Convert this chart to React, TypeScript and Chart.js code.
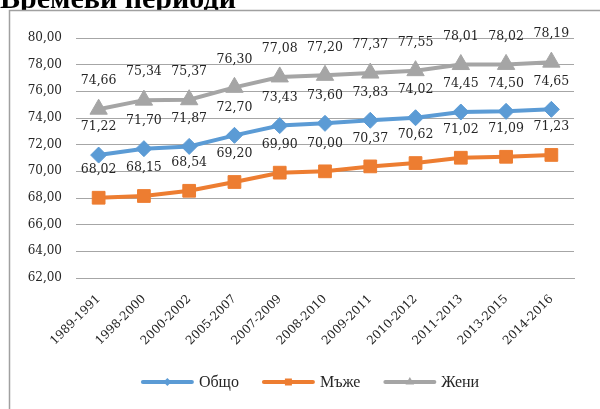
import React, { useEffect, useRef } from "react";
import { Chart, registerables } from "chart.js";

Chart.register(...registerables);

const categories = [
  "1989-1991", "1998-2000", "2000-2002", "2005-2007", "2007-2009", "2008-2010",
  "2009-2011", "2010-2012", "2011-2013", "2013-2015", "2014-2016",
];
const totalValues = [71.22, 71.7, 71.87, 72.7, 73.43, 73.6, 73.83, 74.02, 74.45, 74.5, 74.65];
const menValues = [68.02, 68.15, 68.54, 69.2, 69.9, 70.0, 70.37, 70.62, 71.02, 71.09, 71.23];
const womenValues = [74.66, 75.34, 75.37, 76.3, 77.08, 77.2, 77.37, 77.55, 78.01, 78.02, 78.19];
const seriesNames = ["Общо", "Мъже", "Жени"];
const titleText = "Времеви периоди";
const yMin = 62;
const yMax = 80;
const yStep = 2;

const BLUE = "#5B9BD5";
const ORANGE = "#ED7D31";
const GRAY = "#A5A5A5";
const TEXT = "#262626";
const GRID = "#A6A6A6";
const SERIF = "'DejaVu Serif', serif";

const fmt = (v: number) => v.toFixed(2).replace(".", ",");

const framePlugin = {
  id: "frame",
  beforeDraw(chart: any) {
    const ctx = chart.ctx;
    ctx.save();
    ctx.fillStyle = "#ffffff";
    ctx.fillRect(0, 0, chart.width, chart.height);
    ctx.fillStyle = "#000000";
    ctx.font = "bold 30px 'Liberation Serif', serif";
    ctx.textBaseline = "alphabetic";
    ctx.textAlign = "left";
    ctx.fillText(titleText, 0, 8);
    ctx.fillStyle = "#ffffff";
    ctx.fillRect(9, 10, chart.width, chart.height);
    ctx.strokeStyle = "#A0A0A0";
    ctx.lineWidth = 1.5;
    ctx.strokeRect(9.5, 10.5, chart.width + 20, chart.height + 20);
    ctx.restore();
  },
};

const labelPlugin = {
  id: "pointLabels",
  afterDatasetsDraw(chart: any) {
    const ctx = chart.ctx;
    ctx.save();
    ctx.font = `12.5px ${SERIF}`;
    ctx.fillStyle = TEXT;
    ctx.textAlign = "center";
    ctx.textBaseline = "middle";
    chart.data.datasets.forEach((ds: any, i: number) => {
      const meta = chart.getDatasetMeta(i);
      meta.data.forEach((pt: any, j: number) => {
        ctx.fillText(fmt(ds.data[j]), pt.x, pt.y - 28);
      });
    });
    ctx.restore();
  },
};

function drawMarker(ctx: CanvasRenderingContext2D, style: string, x: number, y: number, color: string) {
  ctx.fillStyle = color;
  ctx.beginPath();
  if (style === "rectRot") {
    const r = 4;
    ctx.moveTo(x, y - r);
    ctx.lineTo(x + r, y);
    ctx.lineTo(x, y + r);
    ctx.lineTo(x - r, y);
  } else if (style === "rect") {
    const s = 3.5;
    ctx.rect(x - s, y - s, 2 * s, 2 * s);
  } else {
    const r = 5;
    ctx.moveTo(x, y - r);
    ctx.lineTo(x + r * 0.866, y + r / 2);
    ctx.lineTo(x - r * 0.866, y + r / 2);
  }
  ctx.closePath();
  ctx.fill();
}

const legendPlugin = {
  id: "customLegend",
  afterDraw(chart: any) {
    const ctx = chart.ctx;
    ctx.save();
    ctx.font = `16px 'Liberation Serif', serif`;
    const lineLen = 53;
    const gap = 5;
    const itemGap = 23;
    const widths = chart.data.datasets.map((ds: any) => lineLen + gap + ctx.measureText(ds.label).width);
    const total = widths.reduce((a: number, b: number) => a + b, 0) + itemGap * (widths.length - 1);
    let x = 310 - total / 2;
    const y = 382;
    chart.data.datasets.forEach((ds: any, i: number) => {
      ctx.strokeStyle = ds.borderColor;
      ctx.lineWidth = 4;
      ctx.lineCap = "round";
      ctx.beginPath();
      ctx.moveTo(x + 2, y);
      ctx.lineTo(x + lineLen - 2, y);
      ctx.stroke();
      drawMarker(ctx, ds.pointStyle, x + lineLen / 2, y, ds.borderColor);
      ctx.fillStyle = TEXT;
      ctx.textAlign = "left";
      ctx.textBaseline = "middle";
      ctx.fillText(ds.label, x + lineLen + gap, y + 1);
      x += widths[i] + itemGap;
    });
    ctx.restore();
  },
};

export default function App() {
  const ref = useRef<HTMLCanvasElement | null>(null);
  useEffect(() => {
    if (!ref.current) return;
    const mk = (label: string, data: number[], color: string, style: string, radius: number) => ({
      label,
      data,
      borderColor: color,
      backgroundColor: color,
      borderWidth: 4,
      pointStyle: style,
      pointRadius: radius,
      pointBorderWidth: 1,
      pointBackgroundColor: color,
      pointBorderColor: color,
      tension: 0,
    });
    const chart = new Chart(ref.current, {
      type: "line",
      data: {
        labels: categories,
        datasets: [
          mk(seriesNames[0], totalValues, BLUE, "rectRot", 8),
          mk(seriesNames[1], menValues, ORANGE, "rect", 9),
          mk(seriesNames[2], womenValues, GRAY, "triangle", 10),
        ],
      },
      options: {
        animation: false,
        responsive: false,
        maintainAspectRatio: false,
        layout: { padding: { top: 38, right: 26, bottom: 0, left: 0 } },
        plugins: {
          legend: { display: false },
          tooltip: { enabled: false },
        },
        scales: {
          x: {
            offset: true,
            grid: { display: false },
            border: { display: true, color: GRID, width: 1 },
            ticks: {
              color: TEXT,
              font: { family: SERIF, size: 12 },
              minRotation: 45,
              maxRotation: 45,
              padding: 6,
              autoSkip: false,
            },
            afterFit(scale: any) {
              scale.height = 131;
            },
          },
          y: {
            min: yMin,
            max: yMax,
            grid: { color: GRID, lineWidth: 1, drawTicks: false },
            border: { display: false },
            ticks: {
              stepSize: yStep,
              color: TEXT,
              font: { family: SERIF, size: 12 },
              padding: 14,
              callback: (v: any) => fmt(Number(v)),
            },
            afterFit(scale: any) {
              scale.width = 76;
            },
          },
        },
      },
      plugins: [framePlugin, labelPlugin, legendPlugin],
    } as any);
    return () => chart.destroy();
  }, []);
  return (
    <div style={{ position: "absolute", left: 0, top: 0, width: 600, height: 409 }}>
      <canvas ref={ref} width={600} height={409} style={{ display: "block" }} />
    </div>
  );
}
